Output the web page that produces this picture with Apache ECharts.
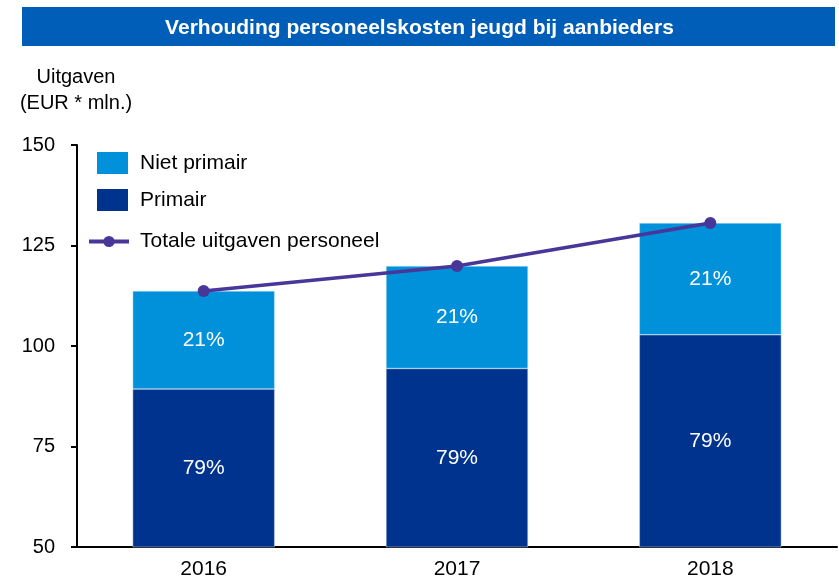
<!DOCTYPE html>
<html>
<head>
<meta charset="utf-8">
<script src="https://cdn.jsdelivr.net/npm/echarts@6/dist/echarts.min.js"></script>
<style>
html, body { margin: 0; padding: 0; background: #fff; }
#chart { width: 839px; height: 580px; }
</style>
</head>
<body>
<div id="chart"></div>
<script>
var years = ['2016', '2017', '2018'];
var primair = [89.3, 94.4, 102.8];
var nietPrimair = [24.4, 25.5, 27.8];
var totaal = [113.7, 119.9, 130.6];
var primairPct = ['79%', '79%', '79%'];
var nietPct = ['21%', '21%', '21%'];
var yTicks = [50, 75, 100, 125, 150];

var font = 'Liberation Sans, Arial, sans-serif';
var colors = ['#0091da', '#00338d', '#483698'];

var chart = echarts.init(document.getElementById('chart'));

var option = {
	animation: false,
	textStyle: { fontFamily: font },
	grid: { left: 77, right: 2, top: 145, bottom: 30 },
	graphic: [
		{ type: 'rect', left: 22, top: 7, shape: { width: 813, height: 39 }, style: { fill: '#005eb8' } },
		{ type: 'text', left: 'center', top: 18, style: { text: 'Verhouding personeelskosten jeugd bij aanbieders', fill: '#fff', font: 'bold 21px ' + font } },
		{ type: 'text', x: 76, y: 64, style: { text: 'Uitgaven\n(EUR * mln.)', textAlign: 'center', fill: '#000', font: '20px ' + font, lineHeight: 26 } }
	],
	legend: [
		{
			left: 97, top: 152, padding: 0, orient: 'vertical', itemWidth: 31, itemHeight: 22, itemGap: 15,
			icon: 'rect',
			itemStyle: { borderWidth: 0 },
			data: ['Niet primair', 'Primair'],
			textStyle: { fontSize: 21, color: '#000', padding: [0, 0, 0, 7], fontFamily: font }
		},
		{
			left: 87, top: 231, padding: 0, itemWidth: 40, itemHeight: 14,
			lineStyle: { width: 4 },
			data: ['Totale uitgaven personeel'],
			textStyle: { fontSize: 21, color: '#000', padding: [0, 0, 0, 6], fontFamily: font }
		}
	],
	xAxis: {
		type: 'category',
		data: years,
		axisLine: { lineStyle: { color: '#000', width: 2 } },
		axisTick: { show: false },
		axisLabel: { fontSize: 21, color: '#000', margin: 12 }
	},
	yAxis: {
		type: 'value',
		min: yTicks[0], max: yTicks[yTicks.length - 1], interval: 25,
		axisLine: { show: true, lineStyle: { color: '#000', width: 2 } },
		axisTick: { show: true, length: 6, lineStyle: { color: '#000', width: 2 } },
		splitLine: { show: false },
		axisLabel: { fontSize: 20, color: '#000', margin: 22 }
	},
	series: [
		{
			name: 'Primair', type: 'bar', stack: 'a', barWidth: 142,
			itemStyle: { color: colors[1], borderColor: '#c8d6ea', borderWidth: 0.5 },
			label: { show: true, position: 'inside', color: '#fff', fontSize: 21,
				formatter: function (p) { return primairPct[p.dataIndex]; } },
			data: primair
		},
		{
			name: 'Niet primair', type: 'bar', stack: 'a', barWidth: 142,
			itemStyle: { color: colors[0], borderColor: '#c8e4f5', borderWidth: 0.5 },
			label: { show: true, position: 'inside', color: '#fff', fontSize: 21,
				formatter: function (p) { return nietPct[p.dataIndex]; } },
			data: nietPrimair
		},
		{
			name: 'Totale uitgaven personeel', type: 'line',
			symbol: 'circle', symbolSize: 12,
			lineStyle: { color: colors[2], width: 3.5 },
			itemStyle: { color: colors[2] },
			data: totaal
		}
	]
};

chart.setOption(option);
</script>
</body>
</html>
